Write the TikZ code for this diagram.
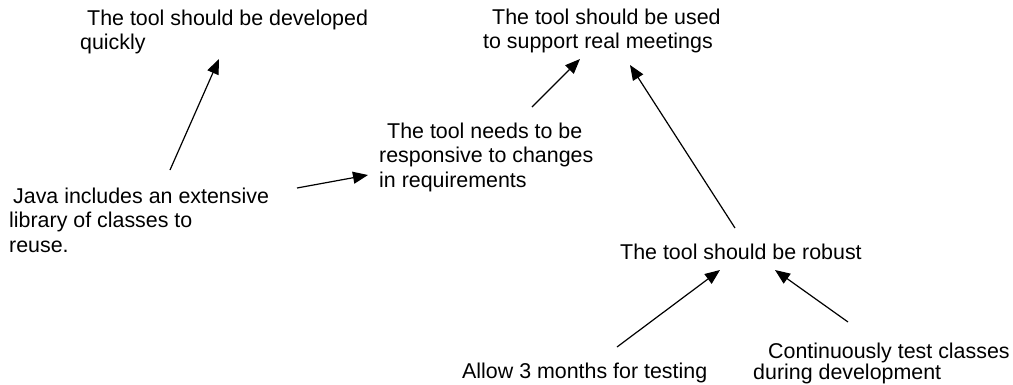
\documentclass[tikz,border=0pt]{standalone}
\usepackage{fontspec}
\setmainfont{Liberation Sans}
\usepackage{tikz}
\usetikzlibrary{arrows.meta}

\begin{document}
\begin{tikzpicture}[x=1pt, y=1pt,
  goal/.style={anchor=north west, inner sep=0pt, align=left, font=\fontsize{21.4}{24.5}\selectfont},
  link/.style={line width=1.2pt, -{Triangle[length=15pt, width=12pt]}}]
\useasboundingbox[fill=white] (0,0) rectangle (1013,-384);

\node[goal](dev) at (80,-9.4) {\hspace*{7pt}The tool should be developed\\quickly};
\node[goal](used) at (483,-8.4) {\hspace*{9pt}The tool should be used\\to support real meetings};
\node[goal](resp) at (379,-122.4) {\hspace*{8pt}The tool needs to be\\responsive to changes\\in requirements};
\node[goal](java) at (9,-187.4) {\hspace*{4pt}Java includes an extensive\\library of classes to\\reuse.};
\node[goal](robust) at (620,-243.4) {The tool should be robust};
\node[goal](allow) at (462,-362.4) {Allow 3 months for testing};
\node[goal](cont) at (753,-342.4) {\hspace*{15pt}Continuously test classes\\[-3.5pt]during development};

\path[link] ([shift={(161,17.4)}]java.north west) edge ([shift={(139,-49.6)}]dev.north west);
\path[link] ([shift={(288,-0.6)}]java.north west) edge ([shift={(-11,-52.6)}]resp.north west);
\path[link] ([shift={(153,15.4)}]resp.north west) edge ([shift={(97,-50.6)}]used.north west);
\path[link] ([shift={(115,15.4)}]robust.north west) edge ([shift={(147,-56.6)}]used.north west);
\path[link] ([shift={(155,15.4)}]allow.north west) edge ([shift={(100,-26.6)}]robust.north west);
\path[link] ([shift={(95,20.4)}]cont.north west) edge ([shift={(155,-26.6)}]robust.north west);
\end{tikzpicture}
\end{document}
